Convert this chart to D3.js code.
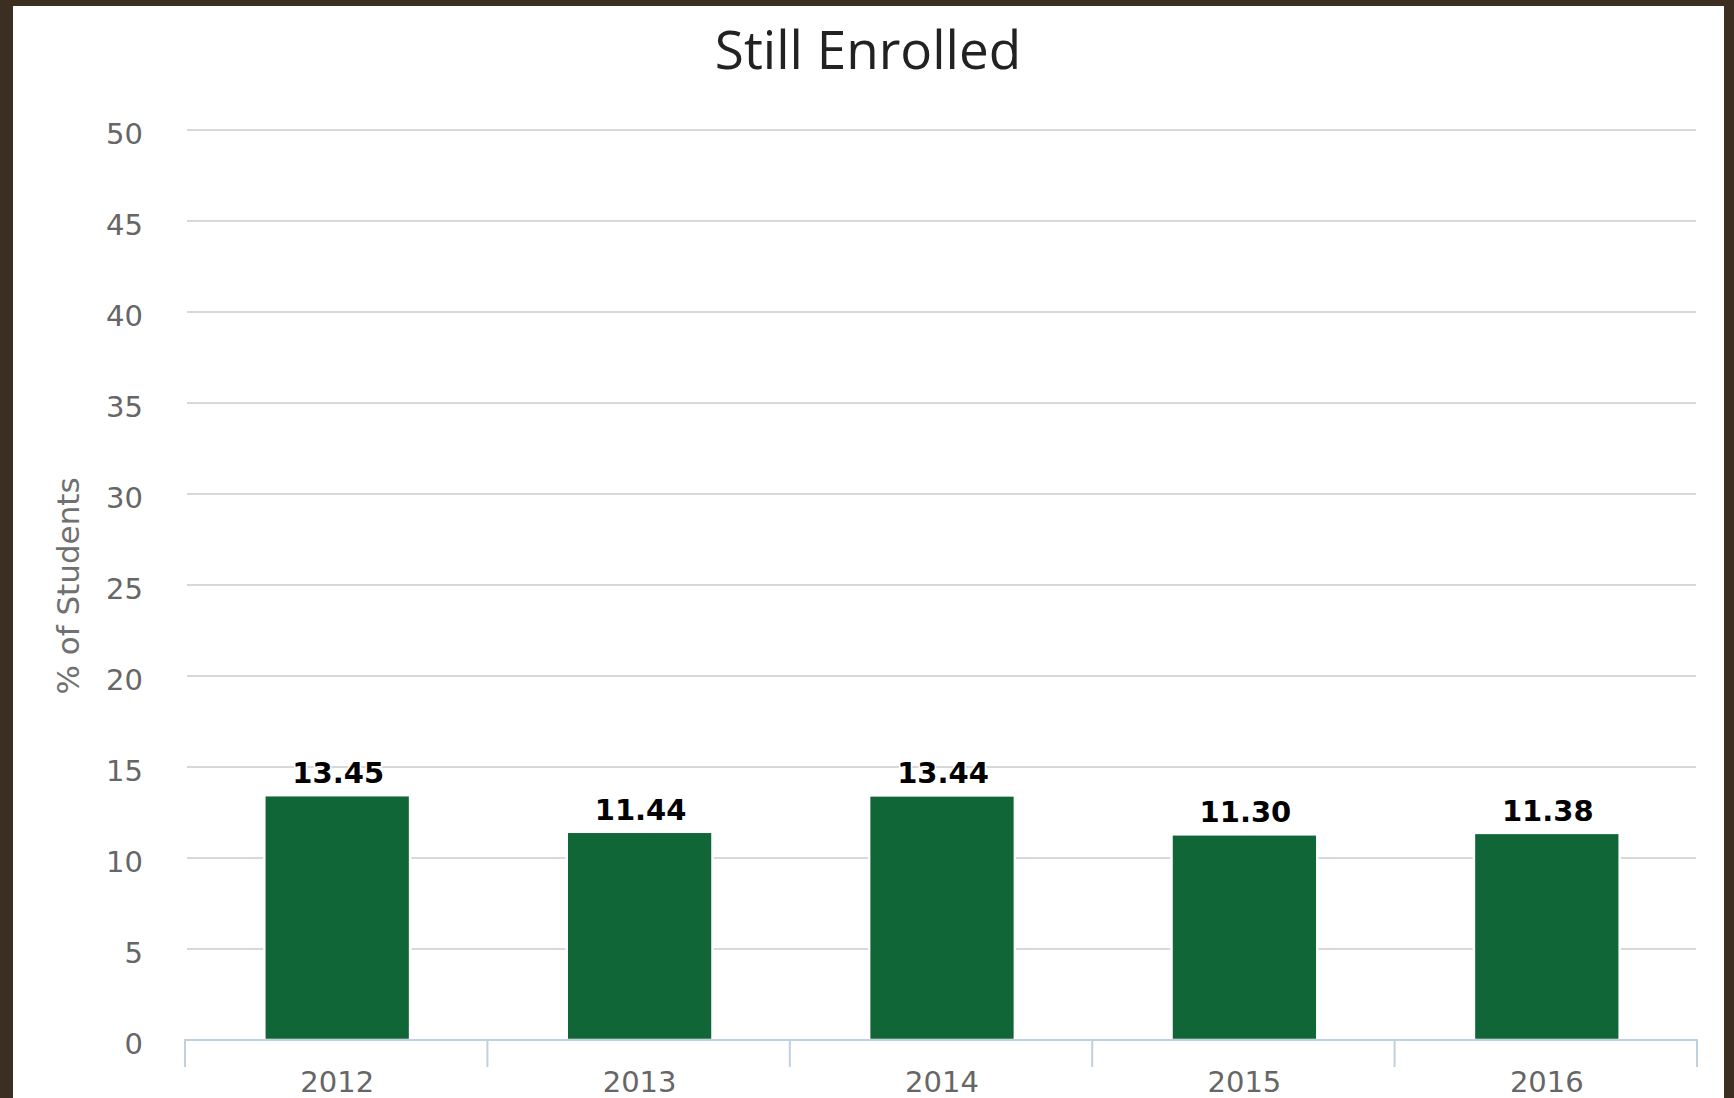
<!DOCTYPE html>
<html>
<head>
<meta charset="utf-8">
<script src="https://cdn.jsdelivr.net/npm/d3@7"></script>
<style>
  html, body { margin: 0; padding: 0; background: #3d2e22; }
  svg { display: block; }
</style>
</head>
<body>
<svg id="chart" width="1734" height="1098"></svg>
<script>
const title = "Still Enrolled";
const yAxisTitle = "% of Students";
const categories = ["2012", "2013", "2014", "2015", "2016"];
const values = [13.45, 11.44, 13.44, 11.30, 11.38];
const yTicks = [0, 5, 10, 15, 20, 25, 30, 35, 40, 45, 50];

const svg = d3.select("#chart");
const W = 1734, H = 1098;

// outer dark frame + white panel
svg.append("rect").attr("x", 0).attr("y", 0).attr("width", W).attr("height", H).attr("fill", "#3d2e22");
svg.append("rect").attr("x", 13).attr("y", 6).attr("width", 1724 - 13).attr("height", H - 6).attr("fill", "#ffffff");

const plot = { left: 185, right: 1697, top: 130, bottom: 1040 };

const x = d3.scaleBand().domain(categories).range([plot.left, plot.right]).padding(0);
const y = d3.scaleLinear().domain([0, 50]).range([plot.bottom, plot.top]);
const barFrac = 0.482;

// gridlines
svg.append("g").selectAll("line").data(yTicks.filter(d => d > 0)).join("line")
  .attr("x1", plot.left + 2).attr("x2", plot.right - 1)
  .attr("y1", d => y(d)).attr("y2", d => y(d))
  .attr("stroke", "#d8d8d8").attr("stroke-width", 2);

// y tick labels
svg.append("g").selectAll("text").data(yTicks).join("text")
  .attr("x", 143).attr("y", d => y(d) + 14)
  .attr("text-anchor", "end")
  .attr("font-family", "DejaVu Sans, Verdana, sans-serif")
  .attr("font-size", 29)
  .attr("fill", "#666666")
  .text(d => d);

// y axis title
svg.append("text")
  .attr("transform", `translate(79, ${(plot.top + plot.bottom) / 2 + 1}) rotate(-90)`)
  .attr("text-anchor", "middle")
  .attr("font-family", "DejaVu Sans, Verdana, sans-serif")
  .attr("font-size", 31)
  .attr("fill", "#707070")
  .text(yAxisTitle);

// bars
const bw = x.bandwidth() * barFrac;
svg.append("g").selectAll("rect").data(values).join("rect")
  .attr("x", (d, i) => x(categories[i]) + (x.bandwidth() - bw) / 2 + 1)
  .attr("y", d => y(d))
  .attr("width", bw)
  .attr("height", d => y(0) - y(d))
  .attr("fill", "#106636")
  .attr("stroke", "#ffffff")
  .attr("stroke-width", 2.5);

// data labels
svg.append("g").selectAll("text").data(values).join("text")
  .attr("x", (d, i) => x(categories[i]) + x.bandwidth() / 2 + 2)
  .attr("y", d => y(d) - 12)
  .attr("text-anchor", "middle")
  .attr("font-family", "DejaVu Sans, Verdana, sans-serif")
  .attr("font-weight", "bold")
  .attr("font-size", 29)
  .attr("fill", "#000000")
  .attr("stroke", "#ffffff")
  .attr("stroke-width", 3)
  .attr("paint-order", "stroke")
  .text(d => d.toFixed(2));

// x axis line
svg.append("line")
  .attr("x1", plot.left - 1).attr("x2", plot.right + 1)
  .attr("y1", plot.bottom).attr("y2", plot.bottom)
  .attr("stroke", "#c0d0e0").attr("stroke-width", 2);

// x ticks at category boundaries
const bounds = categories.map(c => x(c)).concat([x(categories[categories.length - 1]) + x.bandwidth()]);
svg.append("g").selectAll("line").data(bounds).join("line")
  .attr("x1", d => d).attr("x2", d => d)
  .attr("y1", plot.bottom).attr("y2", plot.bottom + 27)
  .attr("stroke", "#c0d0e0").attr("stroke-width", 2);

// x labels
svg.append("g").selectAll("text").data(categories).join("text")
  .attr("x", d => x(d) + x.bandwidth() / 2 + 1)
  .attr("y", 1092)
  .attr("text-anchor", "middle")
  .attr("font-family", "DejaVu Sans, Verdana, sans-serif")
  .attr("font-size", 29)
  .attr("fill", "#666666")
  .text(d => d);

// title
svg.append("text")
  .attr("x", 868).attr("y", 69)
  .attr("text-anchor", "middle")
  .attr("font-family", "Open Sans, sans-serif")
  .attr("font-size", 53)
  .attr("fill", "#222222")
  .text(title);
</script>
</body>
</html>
